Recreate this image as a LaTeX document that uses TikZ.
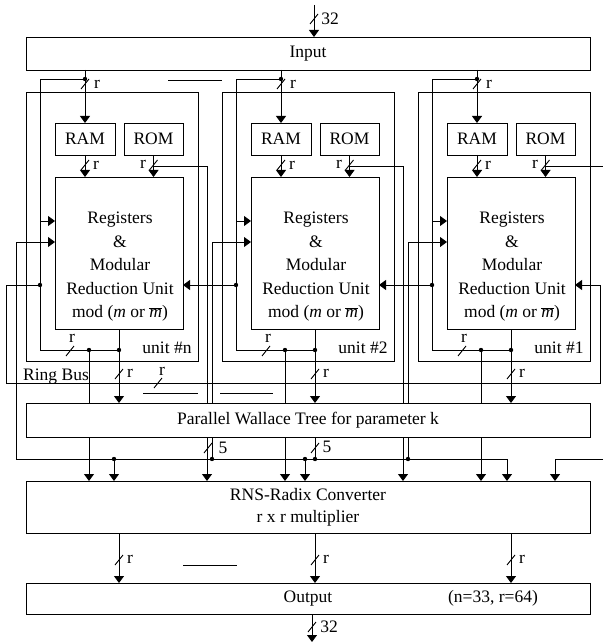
\documentclass[tikz,border=0pt]{standalone}
\usepackage{fontspec}
\setmainfont{Liberation Serif}
\usetikzlibrary{arrows.meta,calc}
% bus-width tick across a wire
\newcommand{\tick}[1]{\draw ($(#1)+(-4,5)$) -- ($(#1)+(4,-5)$);}

\begin{document}
\begin{tikzpicture}[x=1pt,y=-1pt,line width=0.9pt,
    every node/.style={font=\fontsize{17.5}{23.5}\selectfont},
    blk/.style={draw,inner sep=0pt,outer sep=0pt},
    arr/.style={-{Triangle[width=10pt,length=7pt]}}]
  \useasboundingbox (0,0) rectangle (603,644);
  % long blocks
  \node[blk,minimum width=564pt,minimum height=33pt] (input) at (308,53.5) {Input};
  \node[blk,minimum width=564pt,minimum height=34pt] (wallace) at (308,420) {Parallel Wallace Tree for parameter k};
  \node[blk,minimum width=564pt,minimum height=52pt,align=center,
        font=\fontsize{17.5}{22}\selectfont] (rns) at (308,507) {RNS-Radix Converter\\r x r multiplier};
  \node[blk,minimum width=564pt,minimum height=31pt] (output) at (308,598.5) {Output};
  \node (param) at (493,598) {(n=33, r=64)};
  % 32-bit in and out
  \coordinate (din) at (314,5);
  \draw[arr] (din) -- (din |- input.north);
  \tick{314,19}
  \node at (330,19) {32};
  \coordinate (dout) at (312,642);
  \draw[arr] (dout |- output.south) -- (dout);
  \tick{312,627}
  \node at (329,627) {32};
  % processing units
  \foreach \o/\u in {0/n,196/2,392/1}{
    \draw (\o+26,92) rectangle (\o+198,361);
    \node[blk,minimum width=60pt,minimum height=32pt] (ram\u) at (\o+85,139) {RAM};
    \node[blk,minimum width=59pt,minimum height=32pt] (rom\u) at (\o+153.5,139) {ROM};
    \node[blk,minimum width=128pt,minimum height=152pt] (reg\u) at (\o+119,253) {};
    \node[align=center] (txt\u) at (\o+120,267) {Registers\\\&\\Modular\\Reduction Unit\\mod (\textit{m} or $\overline{\mbox{\textit{m}}}$)};
    \node (lbl\u) at (\o+167,348) {unit \#\u};
    % input, RAM and ROM paths
    \draw[arr] (ram\u.north |- input.south) -- (ram\u.north);
    \draw[arr] (ram\u.south) -- (ram\u.south |- reg\u.north);
    \draw[arr] (rom\u.south) -- (rom\u.south |- reg\u.north);
    \tick{\o+85,84} \node at (\o+97,84) {r};
    \tick{\o+85,165} \node at (\o+96,165) {r};
    \tick{\o+153.5,165} \node at (\o+143,164) {r};
    % local loop
    \coordinate (fb\u) at (\o+40,221);
    \coordinate (tap\u) at (\o+40,285);
    \draw (\o+85,79) -- (\o+40,79) -- (\o+40,350) -- (\o+119,350);
    \draw[arr] (fb\u) -- (fb\u -| reg\u.west);
    \fill (\o+85,79) circle[radius=2.2pt] (tap\u) circle[radius=2.2pt]
          (\o+89,350) circle[radius=2.2pt] (\o+119,350) circle[radius=2.2pt];
    \tick{\o+70,351} \node at (\o+72,338) {r};
    % results down to the tree and the converter
    \draw[arr] (reg\u.south) -- (reg\u.south |- wallace.north);
    \tick{\o+119,374} \node at (\o+130,373) {r};
    \draw (\o+89,350) -- (\o+89,403);
    \draw[arr] (\o+89,437) -- (\o+89,481);
    \draw[arr] (reg\u.south |- rns.south) -- (reg\u.south |- output.north);
    \tick{\o+119,560} \node at (\o+130,559) {r};
    % second operand from the bus
    \coordinate (in\u) at (\o+16,242);
    \draw[arr] (\o+16,403) -- (in\u) -- (in\u -| reg\u.west);
    \draw (\o+16,437) -- (\o+16,459);
  }
  \draw (16,403) -- (16,437);
  % ROM address lines
  \foreach \o in {0,196}{
    \draw (\o+153.5,166) -- (\o+207,166) -- (\o+207,403);
    \draw[arr] (\o+207,437) -- (\o+207,481);
  }
  \draw (545.5,166) -- (603,166);
  % ring bus
  \draw[arr] (tapn) -- (6,285) -- (6,383) -- (600,383) -- (600,285) -- (reg1.east |- tapn);
  \draw[arr] (tap2) -- (tap2 -| regn.east);
  \draw[arr] (tap1) -- (tap1 -| reg2.east);
  \node[anchor=base] (ring) at (56,380) {Ring Bus};
  \tick{158,383} \node at (162,371) {r};
  % bus under the tree
  \draw[arr] (16,459) -- (507,459) -- (507,481);
  \draw[arr] (114,459) -- (114,481);
  \draw[arr] (305,459) -- (305,481);
  \draw (315,437) -- (315,459);
  \fill (114,459) circle[radius=2.2pt] (212,459) circle[radius=2.2pt]
        (305,459) circle[radius=2.2pt] (315,459) circle[radius=2.2pt]
        (408,459) circle[radius=2.2pt];
  \tick{208,448} \node at (223,448) {5};
  \tick{315,448} \node at (327,447) {5};
  \draw[arr] (603,459) -- (555,459) -- (555,481);
  % stray strokes
  \draw (168,80) -- (222,80);
  \draw (143,393) -- (198,393);
  \draw (220,393) -- (273,393);
  \draw (183,565) -- (237,565);
\end{tikzpicture}
\end{document}
